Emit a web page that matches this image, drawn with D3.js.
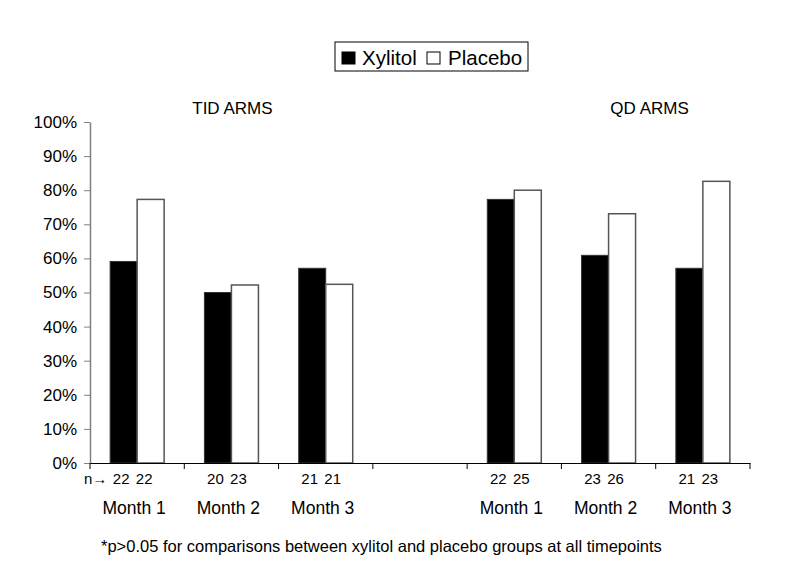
<!DOCTYPE html>
<html>
<head>
<meta charset="utf-8">
<script src="https://cdn.jsdelivr.net/npm/d3@7"></script>
<style>
  body { margin: 0; background: #fff; }
  text { font-family: Arial, "Liberation Sans", sans-serif; fill: #000; }
</style>
</head>
<body>
<script>
const width = 789;
const height = 584;
const margin = { top: 122, left: 90, right: 39, bottom: 121 };
const board = {
  width: width - (margin.left + margin.right),
  height: height - (margin.top + margin.bottom),
};

// data
const slots = ['tid1', 'tid2', 'tid3', 'gap', 'qd1', 'qd2', 'qd3'];
const months = ['Month 1', 'Month 2', 'Month 3', '', 'Month 1', 'Month 2', 'Month 3'];
const xylitol = [59.1, 50.0, 57.1, null, 77.3, 60.9, 57.1];
const placebo = [77.3, 52.2, 52.4, null, 80.0, 73.1, 82.6];
const nXylitol = ['22', '20', '21', '', '22', '23', '21'];
const nPlacebo = ['22', '23', '21', '', '25', '26', '23'];
const yTicks = [0, 10, 20, 30, 40, 50, 60, 70, 80, 90, 100];
const series = ['Xylitol', 'Placebo'];
const arms = [{ label: 'TID ARMS', at: 'tid2' }, { label: 'QD ARMS', at: 'qd2' }];

const svg = d3.select('body')
  .append('svg')
    .attr('width', width)
    .attr('height', height)
  .append('g')
    .attr('transform', `translate(${margin.left}, ${margin.top})`);

const x = d3.scaleBand()
  .range([0, board.width])
  .domain(slots);

const y = d3.scaleLinear()
  .range([board.height, 0])
  .domain([0, 100]);

const bw = 27;
const color = { Xylitol: '#000', Placebo: '#fff' };

// y axis
const yAxis = d3.axisLeft(y)
  .tickValues(yTicks)
  .tickSizeInner(6)
  .tickSizeOuter(0)
  .tickPadding(7)
  .tickFormat((d) => d + '%');

const ya = svg.append('g').call(yAxis);
ya.select('.domain').attr('stroke', '#808080').attr('stroke-width', 1.5);
ya.selectAll('.tick line').attr('stroke', '#808080');
ya.selectAll('.tick text').style('font-size', '17px').style('fill', '#000');

// bars
const groups = svg.selectAll('.grp')
  .data(slots.map((s, i) => ({ s, i })).filter((d) => xylitol[d.i] !== null))
  .enter()
    .append('g')
    .attr('class', 'grp');

groups.append('rect')
  .attr('x', (d) => x(d.s) + x.bandwidth() / 2 - bw)
  .attr('y', (d) => y(xylitol[d.i]))
  .attr('width', bw)
  .attr('height', (d) => board.height - y(xylitol[d.i]))
  .attr('fill', color.Xylitol)
  .attr('stroke', '#333')
  .attr('stroke-width', 1);

groups.append('rect')
  .attr('x', (d) => x(d.s) + x.bandwidth() / 2)
  .attr('y', (d) => y(placebo[d.i]))
  .attr('width', bw)
  .attr('height', (d) => board.height - y(placebo[d.i]))
  .attr('fill', color.Placebo)
  .attr('stroke', '#555')
  .attr('stroke-width', 1.5);

// x axis
const xAxis = d3.axisBottom(x)
  .tickValues([])
  .tickSizeOuter(0);

const xa = svg.append('g')
  .attr('transform', `translate(0, ${board.height})`)
  .call(xAxis);
xa.select('.domain').attr('stroke', '#000').attr('stroke-width', 1.2);

xa.selectAll('.sep')
  .data(slots.concat(['end']))
  .enter()
    .append('line')
    .attr('x1', (d, i) => (i < slots.length ? x(d) : board.width))
    .attr('x2', (d, i) => (i < slots.length ? x(d) : board.width))
    .attr('y1', 0)
    .attr('y2', 6)
    .attr('stroke', '#000');

// n labels
svg.append('text')
  .attr('x', -6)
  .attr('y', board.height + 21)
  .style('font-size', '15px')
  .text('n\u2192');

const nl = svg.selectAll('.nl')
  .data(slots.map((s, i) => ({ s, i })).filter((d) => nXylitol[d.i] !== ''))
  .enter()
    .append('g');

nl.append('text')
  .attr('text-anchor', 'middle')
  .attr('x', (d) => x(d.s) + x.bandwidth() / 2 - 16)
  .attr('y', board.height + 21)
  .style('font-size', '15px')
  .text((d) => nXylitol[d.i]);

nl.append('text')
  .attr('text-anchor', 'middle')
  .attr('x', (d) => x(d.s) + x.bandwidth() / 2 + 7)
  .attr('y', board.height + 21)
  .style('font-size', '15px')
  .text((d) => nPlacebo[d.i]);

// month labels
svg.selectAll('.month')
  .data(slots)
  .enter()
    .append('text')
    .attr('text-anchor', 'middle')
    .attr('x', (d) => x(d) + x.bandwidth() / 2 - 3)
    .attr('y', board.height + 51)
    .style('font-size', '17.5px')
    .text((d, i) => months[i]);

// arm titles
svg.selectAll('.arm')
  .data(arms)
  .enter()
    .append('text')
    .attr('text-anchor', 'middle')
    .attr('x', (d) => x(d.at) + x.bandwidth() / 2 + (d.label === 'QD ARMS' ? 41 : 1))
    .attr('y', -8)
    .style('font-size', '17px')
    .text((d) => d.label);

// footnote
svg.append('text')
  .attr('x', 11)
  .attr('y', board.height + 89)
  .style('font-size', '16.5px')
  .text('*p>0.05 for comparisons between xylitol and placebo groups at all timepoints');

// legend
const legend = svg.append('g')
  .attr('transform', `translate(${335 - margin.left}, ${42 - margin.top})`);

legend.append('rect')
  .attr('width', 193)
  .attr('height', 29)
  .attr('fill', '#fff')
  .attr('stroke', '#000')
  .attr('stroke-width', 1);

const items = [
  { name: series[0], box: 7, tx: 27 },
  { name: series[1], box: 92, tx: 113 },
];

legend.selectAll('.item')
  .data(items)
  .enter()
    .append('rect')
    .attr('x', (d) => d.box)
    .attr('y', 10)
    .attr('width', 13)
    .attr('height', 12)
    .attr('fill', (d) => color[d.name])
    .attr('stroke', '#000');

legend.selectAll('.lt')
  .data(items)
  .enter()
    .append('text')
    .attr('x', (d) => d.tx)
    .attr('y', 23)
    .style('font-size', '20.5px')
    .text((d) => d.name);
</script>
</body>
</html>
